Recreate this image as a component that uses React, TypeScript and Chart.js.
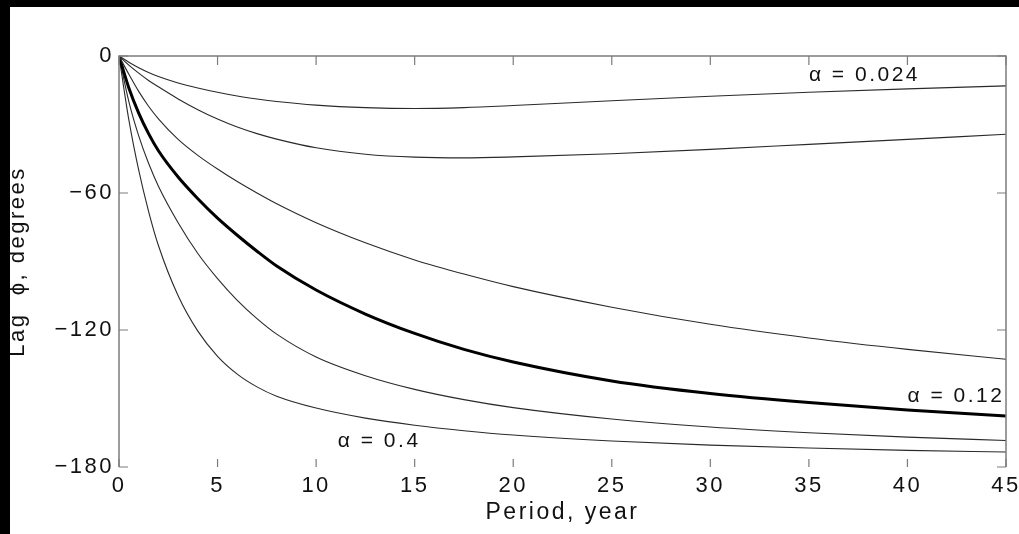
import React, { useEffect, useRef } from "react";
import { Chart, registerables } from "chart.js";

Chart.register(...registerables);

// Period, years
const periods = [0, 0.5, 1, 1.5, 2, 3, 4, 5, 6, 7, 8, 10, 12.5, 15, 17.5, 20, 25, 30, 35, 40, 45];

// Lag phi, degrees (one array per curve, top to bottom)
const lagAlpha0024 = [0, -2.7, -5.1, -7.2, -9, -11.8, -14, -15.9, -17.5, -18.8, -19.9, -21.5, -22.6, -23, -22.6, -21.7, -19.6, -17.6, -15.9, -14.4, -13.1];
const lagCurve2 = [0, -4, -7.5, -10.7, -13.5, -18.8, -23.5, -27.6, -31.1, -34, -36.4, -40.2, -43, -44.3, -44.6, -44.2, -42.8, -40.9, -38.7, -36.5, -34.3];
const lagCurve3 = [0, -8, -15.5, -22, -27.5, -36.5, -43.5, -49.5, -55, -60, -64.7, -73, -81.8, -89.3, -95.5, -101, -110, -117.5, -123.5, -128.5, -132.8];
const lagAlpha012 = [0, -14, -25, -34, -41.5, -53, -62.5, -71, -78.5, -85.5, -92, -102.5, -113, -121.5, -128.5, -134, -142.3, -147.8, -151.8, -155, -157.7];
const lagCurve5 = [0, -20, -35, -47, -57, -73, -86.5, -97.5, -107, -115, -121.8, -131.8, -140, -146, -150.5, -154, -159, -162.5, -165, -166.9, -168.4];
const lagAlpha04 = [0, -28, -50, -68, -83, -105, -120.5, -131.5, -139.3, -144.9, -149, -154.2, -158.6, -161.7, -164.1, -166, -168.6, -170.4, -171.7, -172.7, -173.45];

const xTickValues = [0, 5, 10, 15, 20, 25, 30, 35, 40, 45];
const yTickValues = [0, -60, -120, -180];

const curveNames = ["α = 0.024", "curve 2", "curve 3", "α = 0.12", "curve 5", "α = 0.4"];
const curveValues = [lagAlpha0024, lagCurve2, lagCurve3, lagAlpha012, lagCurve5, lagAlpha04];
const thickCurve = "α = 0.12";

// text annotations anchored in data coordinates
const curveLabelTexts = ["α = 0.024", "α = 0.12", "α = 0.4"];
const curveLabelPeriods = [35, 40, 11.1];
const curveLabelLags = [-8.3, -149.1, -168.6];

const FONT = "'Liberation Sans', Arial, Helvetica, sans-serif";
const SPACING = "2.5px";

const setSpacing = (chart: any) => {
  (chart.ctx as any).letterSpacing = SPACING;
};

const framePlugin = {
  id: "frameTicks",
  beforeLayout: setSpacing,
  beforeDraw: setSpacing,
  afterDatasetsDraw(chart: any) {
    const { ctx, chartArea } = chart;
    const { left, right, top, bottom } = chartArea;
    const xs = chart.scales.x;
    const ys = chart.scales.y;
    ctx.save();
    ctx.strokeStyle = "#7c7c7c";
    ctx.lineWidth = 1.5;
    ctx.beginPath();
    ctx.moveTo(left, bottom);
    ctx.lineTo(left, top);
    ctx.lineTo(right, top);
    ctx.lineTo(right, bottom);
    ctx.stroke();
    ctx.lineWidth = 1.2;
    ctx.beginPath();
    xTickValues.forEach((v) => {
      const px = xs.getPixelForValue(v);
      ctx.moveTo(px, top);
      ctx.lineTo(px, top + 9);
      ctx.moveTo(px, bottom);
      ctx.lineTo(px, bottom - 8);
    });
    yTickValues.forEach((v) => {
      const py = ys.getPixelForValue(v);
      ctx.moveTo(left, py);
      ctx.lineTo(left + 9, py);
      ctx.moveTo(right, py);
      ctx.lineTo(right - 9, py);
    });
    ctx.stroke();
    ctx.restore();
  },
  afterDraw(chart: any) {
    const { ctx } = chart;
    const xs = chart.scales.x;
    const ys = chart.scales.y;
    ctx.save();
    (ctx as any).letterSpacing = SPACING;
    ctx.font = `21px ${FONT}`;
    ctx.fillStyle = "#111";
    ctx.textAlign = "left";
    ctx.textBaseline = "middle";
    curveLabelTexts.forEach((t, i) => {
      ctx.fillText(t, xs.getPixelForValue(curveLabelPeriods[i]), ys.getPixelForValue(curveLabelLags[i]));
    });
    ctx.restore();
  },
};

export default function App() {
  const canvasRef = useRef<HTMLCanvasElement | null>(null);

  useEffect(() => {
    document.body.style.margin = "0";
    const canvas = canvasRef.current;
    if (!canvas) return;
    const datasets = curveNames.map((name, i) => ({
      label: name,
      data: periods.map((p, j) => ({ x: p, y: curveValues[i][j] })),
      borderColor: name === thickCurve ? "#000" : "#2a2a2a",
      borderWidth: name === thickCurve ? 3 : 1.1,
      pointRadius: 0,
      fill: false,
      cubicInterpolationMode: "monotone" as const,
    }));

    const chart = new Chart(canvas, {
      type: "line",
      data: { datasets },
      plugins: [framePlugin],
      options: {
        animation: false,
        responsive: false,
        devicePixelRatio: 1,
        layout: { padding: { top: 49, right: 13, left: 0, bottom: 0 } },
        plugins: {
          legend: { display: false },
          tooltip: { enabled: false },
        },
        scales: {
          x: {
            type: "linear",
            min: 0,
            max: 45,
            afterFit: (s: any) => {
              s.height = 67;
              s.paddingLeft = 0;
              s.paddingRight = 0;
            },
            afterBuildTicks: (s: any) => {
              s.ticks = xTickValues.map((v) => ({ value: v }));
            },
            grid: { display: false, drawTicks: false },
            border: { display: false },
            ticks: {
              padding: 6,
              color: "#111",
              maxRotation: 0,
              autoSkip: false,
              font: { family: FONT, size: 22, lineHeight: 1.2 },
            },
            title: {
              display: true,
              text: "Period, year",
              color: "#111",
              padding: { top: 0, bottom: 8 },
              font: { family: FONT, size: 23, lineHeight: 1.2 },
            },
          },
          y: {
            type: "linear",
            min: -180,
            max: 0,
            afterFit: (s: any) => {
              s.width = 109;
              s.paddingTop = 0;
              s.paddingBottom = 0;
            },
            afterBuildTicks: (s: any) => {
              s.ticks = yTickValues.map((v) => ({ value: v }));
            },
            grid: { display: false, drawTicks: false },
            border: { display: false },
            ticks: {
              padding: 5,
              color: "#111",
              autoSkip: false,
              font: { family: FONT, size: 22, lineHeight: 1.2 },
              callback: (v: any) => (Number(v) < 0 ? "\u2212" + Math.abs(Number(v)) : String(v)),
            },
            title: {
              display: true,
              text: "Lag  \u03D5, degrees",
              color: "#111",
              padding: { top: 0, bottom: 0 },
              font: { family: FONT, size: 22, lineHeight: "16px" as any },
            },
          },
        },
      },
    });
    return () => chart.destroy();
  }, []);

  return (
    <div style={{ position: "fixed", left: 0, top: 0, width: 1019, height: 534, background: "#000" }}>
      <div style={{ position: "absolute", left: 10, top: 7, width: 1009, height: 527, background: "#fff" }}>
        <canvas ref={canvasRef} width={1009} height={527} style={{ display: "block" }} />
      </div>
    </div>
  );
}
